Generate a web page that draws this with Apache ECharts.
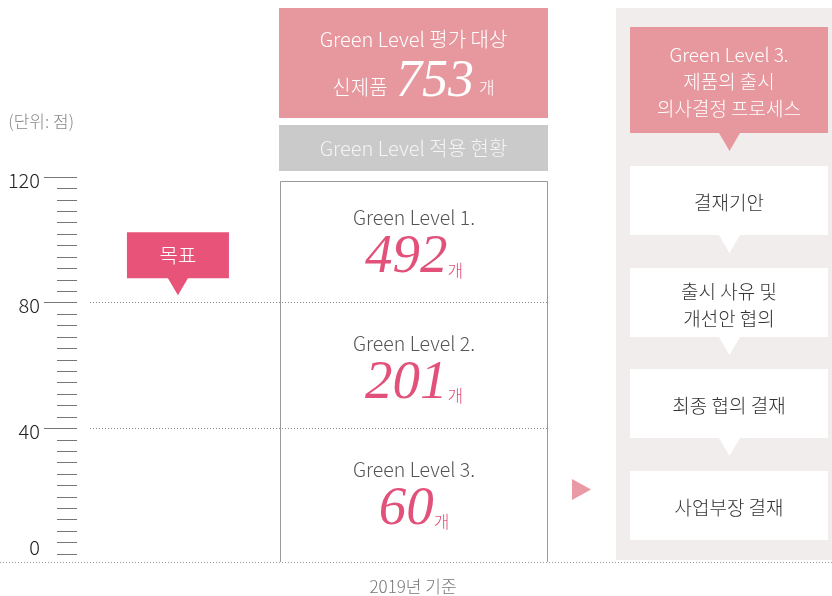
<!DOCTYPE html>
<html>
<head>
<meta charset="utf-8">
<script src="https://cdn.jsdelivr.net/npm/echarts@6/dist/echarts.min.js"></script>
<style>
  html, body { margin: 0; padding: 0; background: #fff; }
  #main { width: 832px; height: 596px; }
</style>
</head>
<body>
<div id="main"></div>
<script>
// 데이터
const LEVELS = ['Green Level 1.', 'Green Level 2.', 'Green Level 3.'];
const COUNTS = [492, 201, 60];
const LEVEL_BOUNDS = [120, 80, 40, 0];
const SCORE_TICKS = [0, 40, 80, 120];
const TARGET = 80;
const PROCESS_TITLE = ['Green Level 3.', '제품의 출시', '의사결정 프로세스'];
const PROCESS_STEPS = ['결재기안', '출시 사유 및\n개선안 협의', '최종 협의 결재', '사업부장 결재'];

const TOTAL = COUNTS.reduce((a, b) => a + b, 0);

const SANS = "'Noto Sans CJK KR', 'Noto Sans', sans-serif";
const SERIF = "'Liberation Serif', 'DejaVu Serif', serif";
const PINK = '#e7989f';
const RED = '#e2517a';

let chartDom = document.getElementById('main');
let myChart = echarts.init(chartDom);

let graphics = [];
// 상단 박스
graphics.push({ type: 'rect', shape: { x: 279, y: 8, width: 269, height: 110 }, style: { fill: PINK }, silent: true });
graphics.push({
  type: 'text', x: 413.5, y: 39,
  style: { text: 'Green Level 평가 대상', fill: '#fff', font: '300 20px ' + SANS, align: 'center', verticalAlign: 'middle' }
});
graphics.push({
  type: 'text', x: 413.5, y: 82,
  style: {
    text: '{a|신제품 }{b|' + TOTAL + '}{c|개}', align: 'center', verticalAlign: 'middle',
    rich: {
      a: { fontSize: 20, fontFamily: SANS, fontWeight: 300, fill: '#fff', verticalAlign: 'bottom', padding: [0, 4, 11, 0] },
      b: { fontSize: 52, fontFamily: SERIF, fontStyle: 'italic', fill: '#fff', lineHeight: 52 },
      c: { fontSize: 17, fontFamily: SANS, fontWeight: 300, fill: '#fff', verticalAlign: 'bottom', padding: [0, 0, 12, 5] }
    }
  }
});
graphics.push({ type: 'rect', shape: { x: 279, y: 125, width: 269, height: 46 }, style: { fill: '#cacaca' }, silent: true });
graphics.push({
  type: 'text', x: 413.5, y: 148,
  style: { text: 'Green Level 적용 현황', fill: '#f4f4f4', font: '300 20px ' + SANS, align: 'center', verticalAlign: 'middle' }
});
graphics.push({
  type: 'polyline', shape: { points: [[280.5, 562], [280.5, 181.5], [547.5, 181.5], [547.5, 562]] },
  style: { stroke: '#999', lineWidth: 1, fill: null }, silent: true
});
// 오른쪽 프로세스
graphics.push({ type: 'rect', shape: { x: 616, y: 8, width: 216, height: 552 }, style: { fill: '#f1eded' }, silent: true });
graphics.push({ type: 'rect', shape: { x: 630, y: 27, width: 198, height: 106 }, style: { fill: PINK }, silent: true });
graphics.push({ type: 'polygon', shape: { points: [[719, 133], [740, 133], [729.5, 151]] }, style: { fill: PINK }, silent: true });
PROCESS_TITLE.forEach(function (t, i) {
  graphics.push({
    type: 'text', x: 729, y: 55 + i * 27,
    style: { text: t, fill: '#fff', font: '300 19px ' + SANS, align: 'center', verticalAlign: 'middle' }
  });
});
PROCESS_STEPS.forEach(function (s, i) {
  let top = 166 + Math.round(i * 101.7);
  graphics.push({ type: 'rect', shape: { x: 630, y: top, width: 198, height: 69 }, style: { fill: '#fff' }, silent: true });
  if (i < PROCESS_STEPS.length - 1) {
    graphics.push({ type: 'polygon', shape: { points: [[719, top + 69], [740, top + 69], [729.5, top + 87]] }, style: { fill: '#fff' }, silent: true });
  }
  graphics.push({
    type: 'text', x: 729, y: top + 37,
    style: { text: s, fill: '#333', font: '300 19px ' + SANS, align: 'center', verticalAlign: 'middle', lineHeight: 27 }
  });
});
graphics.push({ type: 'polygon', shape: { points: [[572, 479], [572, 500], [591, 489.5]] }, style: { fill: '#e99aa5' }, silent: true });
graphics.push({
  type: 'line', shape: { x1: 0, y1: 562.5, x2: 832, y2: 562.5 },
  style: { stroke: '#999', lineWidth: 1, lineDash: [1, 2] }, silent: true
});
graphics.push({
  type: 'text', x: 413, y: 587,
  style: { text: '2019년 기준', fill: '#777', font: '300 17px ' + SANS, align: 'center', verticalAlign: 'middle' }
});

let option = {
  backgroundColor: '#fff',
  animation: false,
  grid: [
    { left: 90, right: 284, top: 177, bottom: 42 },
    { left: 280, right: 284, top: 177, bottom: 42 }
  ],
  xAxis: [
    { gridIndex: 0, type: 'value', min: 0, max: 100, show: false },
    { gridIndex: 1, type: 'value', min: 0, max: 1, show: false }
  ],
  yAxis: [
    {
      // 짧은 눈금
      gridIndex: 0, type: 'value', min: 0, max: 120, interval: 40, position: 'left', offset: 13,
      axisLine: { show: false, onZero: false },
      axisTick: { show: true, length: 20, lineStyle: { color: '#777' } },
      minorTick: { show: true, splitNumber: 11, length: 20, lineStyle: { color: '#777' } },
      axisLabel: { show: false },
      splitLine: { show: false }
    },
    {
      // 긴 눈금 + 라벨
      gridIndex: 0, type: 'value', min: 0, max: 120, interval: 40, position: 'left', offset: 13,
      name: '(단위: 점)', nameLocation: 'end', nameGap: 55,
      nameTextStyle: { align: 'right', verticalAlign: 'middle', padding: [0, 3, 0, 0], color: '#888', fontSize: 17, fontFamily: SANS, fontWeight: 300 },
      axisLine: { show: false, onZero: false },
      axisTick: { show: true, length: 33, customValues: SCORE_TICKS.filter(v => v > 0), lineStyle: { color: '#777' } },
      axisLabel: {
        margin: 37,
        formatter: function (v) { return v === 0 ? '{z|0}' : '{d|' + v + '}'; },
        rich: {
          d: { fontSize: 20, fontFamily: SANS, fontWeight: 300, color: '#222', padding: [6, 0, 0, 0] },
          z: { fontSize: 20, fontFamily: SANS, fontWeight: 300, color: '#222', padding: [0, 0, 14, 0] }
        }
      },
      splitLine: { show: false }
    },
    { gridIndex: 1, type: 'value', min: 0, max: 120, show: false }
  ],
  graphic: graphics,
  series: [
    {
      // 목표
      type: 'scatter', xAxisIndex: 0, yAxisIndex: 0, silent: true,
      data: [[19.2, TARGET]],
      symbol: 'path://M0,0H102V46H61L51,63L41,46H0Z',
      symbolSize: [102, 63], symbolOffset: [0, -39],
      itemStyle: { color: '#e8537a', opacity: 1 },
      label: {
        show: true, position: 'inside', offset: [0, -8], formatter: '목표',
        color: '#fff', fontSize: 20, fontFamily: SANS, fontWeight: 300
      },
      markLine: {
        silent: true, symbol: 'none', label: { show: false },
        lineStyle: { color: '#888', type: [1, 2], width: 1 },
        data: LEVEL_BOUNDS.slice(1, -1).map(v => ({ yAxis: v }))
      }
    },
    {
      // Green Level 구간
      type: 'scatter', xAxisIndex: 1, yAxisIndex: 2, silent: true,
      symbolSize: 1, itemStyle: { color: 'rgba(0,0,0,0)', opacity: 1 },
      data: LEVELS.map((n, i) => [0.5, (LEVEL_BOUNDS[i] + LEVEL_BOUNDS[i + 1]) / 2]),
      label: {
        show: true, position: 'inside', offset: [0, 3],
        formatter: function (p) {
          return '{t|' + LEVELS[p.dataIndex] + '}\n{n|' + COUNTS[p.dataIndex] + '}{u|개}';
        },
        rich: {
          t: { fontSize: 19.5, fontFamily: SANS, fontWeight: 300, color: '#555', lineHeight: 30, align: 'center' },
          n: { fontSize: 55, fontFamily: SERIF, fontStyle: 'italic', color: RED, lineHeight: 50 },
          u: { fontSize: 17, fontFamily: SANS, fontWeight: 300, color: RED, verticalAlign: 'bottom', padding: [0, 0, 4, 0] }
        }
      }
    }
  ]
};

myChart.setOption(option);
</script>
</body>
</html>
